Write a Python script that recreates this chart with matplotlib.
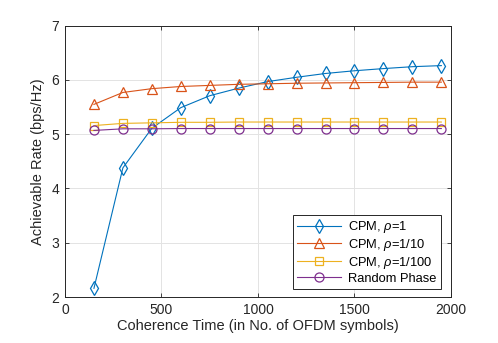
import matplotlib
matplotlib.use("Agg")
import matplotlib.pyplot as plt

plt.rcParams['font.family'] = ['Liberation Sans', 'DejaVu Sans']
plt.rcParams['mathtext.fontset'] = 'custom'
plt.rcParams['mathtext.it'] = 'Liberation Sans:italic'
plt.rcParams['mathtext.rm'] = 'Liberation Sans'

coherence_time = [150, 300, 450, 600, 750, 900, 1050, 1200, 1350, 1500, 1650, 1800, 1950]
cpm_rho1 = [2.16, 4.38, 5.11, 5.49, 5.71, 5.85, 5.97, 6.05, 6.12, 6.17, 6.21, 6.245, 6.265]
cpm_rho10 = [5.55, 5.77, 5.84, 5.88, 5.90, 5.92, 5.93, 5.94, 5.945, 5.95, 5.955, 5.96, 5.96]
cpm_rho100 = [5.16, 5.20, 5.21, 5.22, 5.22, 5.225, 5.225, 5.225, 5.225, 5.225, 5.225, 5.225, 5.225]
random_phase = [5.07, 5.10, 5.10, 5.105, 5.105, 5.105, 5.105, 5.105, 5.105, 5.105, 5.105, 5.105, 5.105]
labels = [r'CPM, $\rho$=1', r'CPM, $\rho$=1/10', r'CPM, $\rho$=1/100', 'Random Phase']

fig = plt.figure(figsize=(4.98, 3.43), dpi=100)
ax = fig.add_axes([0.1305, 0.1341, 0.7751, 0.7909])

kw = dict(linewidth=0.8, markerfacecolor='none', markeredgewidth=0.9)
ax.plot(coherence_time, cpm_rho1, color='#0072BD', marker='d', markersize=7.5, label=labels[0], **kw)
ax.plot(coherence_time, cpm_rho10, color='#D95319', marker='^', markersize=7.5, label=labels[1], **kw)
ax.plot(coherence_time, cpm_rho100, color='#EDB120', marker='s', markersize=5.5, label=labels[2], **kw)
ax.plot(coherence_time, random_phase, color='#7E2F8E', marker='o', markersize=6.5, label=labels[3], **kw)

ax.set_xlim(0, 2000)
ax.set_ylim(2, 7)
ax.set_xticks([0, 500, 1000, 1500, 2000])
ax.set_yticks([2, 3, 4, 5, 6, 7])
ax.grid(True, color='#e3e3e3', linewidth=0.7)
ax.set_axisbelow(True)
for s in ax.spines.values():
    s.set_color('#262626')
    s.set_linewidth(0.7)
ax.tick_params(direction='in', length=3, width=0.6, colors='#262626', labelsize=10,
               top=True, right=True, pad=4)
ax.set_xlabel('Coherence Time (in No. of OFDM symbols)', fontsize=10.5, color='#262626', labelpad=2)
ax.set_ylabel('Achievable Rate (bps/Hz)', fontsize=10.5, color='#262626', labelpad=5)

leg = ax.legend(loc='lower right', bbox_to_anchor=(0.973, 0.028), fontsize=9.3,
                fancybox=False, framealpha=1, edgecolor='#262626', borderpad=0.35,
                handlelength=3.4, labelspacing=0.15, handletextpad=0.5, borderaxespad=0)
leg.get_frame().set_linewidth(0.7)

fig.savefig('out.png', dpi=100)
